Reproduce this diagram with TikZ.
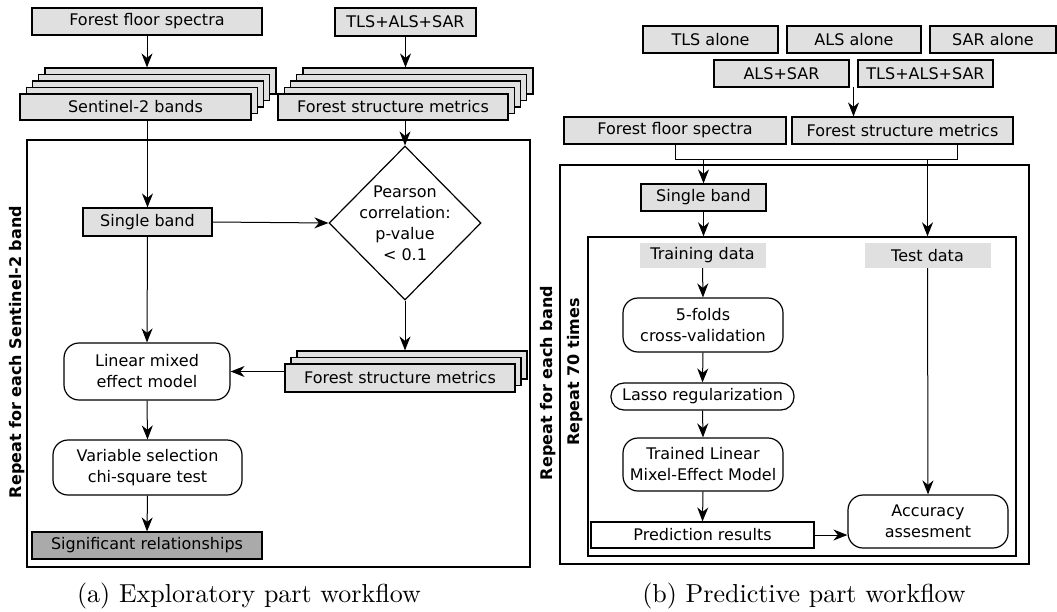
\documentclass[tikz,border=0pt]{standalone}
\usepackage{fontspec}
\newfontfamily\boxfont{DejaVu Sans}
\newfontfamily\capfont{lmroman10-regular}[Extension=.otf]
\usetikzlibrary{shapes.geometric,arrows.meta}
\definecolor{boxgray}{RGB}{224,224,224}
\definecolor{resultgray}{RGB}{170,170,170}

\begin{document}
\begin{tikzpicture}[x=1pt,y=1pt]
\tikzstyle{every node}+=[inner sep=0pt, font=\boxfont\fontsize{16}{21}\selectfont]
\tikzstyle{box}=[draw=black, fill=boxgray, line width=1.2pt]
\tikzstyle{sheet}=[box, minimum width=231, minimum height=26]
\tikzstyle{step box}=[draw=black, fill=white, line width=1.2pt, rounded corners=15pt, align=center]
\tikzstyle{datatag}=[fill=boxgray, minimum width=126, minimum height=25]
\tikzstyle{repeatframe}=[draw=black, line width=2pt]
\tikzstyle{replabel}=[rotate=90, font=\boxfont\fontsize{16}{21}\selectfont\bfseries]
\tikzstyle{caption}=[font=\capfont\fontsize{26}{31}\selectfont]
\tikzstyle{line}=[draw=black, line width=1pt]
\tikzstyle{arrow}=[line, -{Stealth[length=14pt,width=11pt,inset=4.5pt]}]
\useasboundingbox (0,0) rectangle (1057,-611);
\node [box, minimum width=230, minimum height=27] (ffsA) at (147,-21.5) {Forest floor spectra};
\node [box, minimum width=141, minimum height=28] (tlsA) at (405.5,-22) {TLS+ALS+SAR};
\node [sheet] (s2back) at (160.5,-81) {};
\node [sheet] at (154.25,-87.5) {};
\node [sheet] at (148,-94) {};
\node [sheet] at (141.75,-100.5) {};
\node [sheet] (s2) at (135.5,-107) {Sentinel-2 bands};
\node [sheet, minimum width=230] (fsmAback) at (418,-81) {};
\node [sheet, minimum width=230] at (411.75,-87.5) {};
\node [sheet, minimum width=230] at (405.5,-94) {};
\node [sheet, minimum width=230] at (399.25,-100.5) {};
\node [sheet, minimum width=230] (fsmA) at (393,-107) {Forest structure metrics};
\node [repeatframe, minimum width=503, minimum height=427] (loopA) at (278.5,-353.5) {};
\node [replabel] (labelA) at (17,-352) {Repeat for each Sentinel-2 band};
\node [box, minimum width=129, minimum height=28] (sbA) at (147.5,-222) {Single band};
\node [diamond, draw=black, line width=1.2pt, fill=white, align=center, inner sep=-7pt,
       minimum width=152, minimum height=154] (pearson) at (405,-223)
       {Pearson\\correlation:\\p-value\\< 0.1};
\node [sheet, minimum width=230, minimum height=28] (fsmBback) at (412,-365) {};
\node [sheet, minimum width=230, minimum height=28] at (406,-371.5) {};
\node [sheet, minimum width=230, minimum height=28] (fsmB) at (400,-378) {Forest structure metrics};
\node [step box, minimum width=166, minimum height=57] (lmmA) at (147,-371.5) {Linear mixed\\effect model};
\node [step box, minimum width=189, minimum height=55] (vsA) at (147.5,-467.5) {Variable selection\\chi-square test};
\node [box, fill=resultgray, minimum width=230, minimum height=27] (sigA) at (147,-545.5) {Significant relationships};
\node [caption] (capA) at (249,-596) {(a) Exploratory part workflow};
\draw [arrow] (ffsA.south) -- (ffsA.south |- s2back.north);
\draw [arrow] (tlsA.south) -- (tlsA.south |- fsmAback.north);
\draw [arrow] (sbA.north |- s2.south) -- (sbA.north);
\draw [arrow] (pearson.north |- fsmA.south) -- (pearson.north);
\draw [arrow] (sbA.east) -- (pearson.west);
\draw [arrow] (sbA.south) -- (lmmA.north);
\draw [arrow] (pearson.south) -- (pearson.south |- fsmBback.north);
\draw [arrow] (lmmA.east -| fsmB.west) -- (lmmA.east);
\draw [arrow] (lmmA.south) -- (vsA.north);
\draw [arrow] (vsA.south) -- (sigA.north);
\node [box, minimum width=135, minimum height=27] (tlsAlone) at (710.5,-39.5) {TLS alone};
\node [box, minimum width=134, minimum height=27] (alsAlone) at (854,-39.5) {ALS alone};
\node [box, minimum width=126, minimum height=27] (sarAlone) at (993,-39.5) {SAR alone};
\node [box, minimum width=135, minimum height=27] (alsSar) at (781.5,-73.5) {ALS+SAR};
\node [box, minimum width=135, minimum height=27] (tlsAlsSar) at (925.5,-73.5) {TLS+ALS+SAR};
\node [box, minimum width=222, minimum height=27] (ffsR) at (675,-130.5) {Forest floor spectra};
\node [box, minimum width=221, minimum height=27] (fsmR) at (902.5,-130.5) {Forest structure metrics};
\node [repeatframe, minimum width=469, minimum height=399] (bandLoop) at (794.5,-364.5) {};
\node [repeatframe, line width=1.4pt, minimum width=428, minimum height=319] (innerR) at (802,-396.5) {};
\node [replabel] (labelB) at (548,-383) {Repeat for each band};
\node [replabel] (labelC) at (575,-372) {Repeat 70 times};
\node [box, minimum width=125, minimum height=27] (sbR) at (703.5,-197.5) {Single band};
\node [datatag] (trainR) at (702.5,-255.5) {Training data};
\node [datatag] (testR) at (927.5,-255.5) {Test data};
\node [step box, minimum width=160, minimum height=54] (foldsR) at (703,-325) {5-folds\\cross-validation};
\node [step box, rounded corners=13pt, minimum width=183, minimum height=27] (lassoR) at (702.5,-396.5) {Lasso regularization};
\node [step box, minimum width=160, minimum height=53] (trainedR) at (703,-464.5) {Trained Linear\\Mixel-Effect Model};
\node [draw=black, fill=white, line width=1.2pt, minimum width=223, minimum height=26] (predR) at (702.5,-535) {Prediction results};
\node [step box, minimum width=160, minimum height=53] (accR) at (928,-521.5) {Accuracy\\assesment};
\node [caption] (capB) at (804,-596) {(b) Predictive part workflow};
\coordinate (gapR) at (853.5,-87);
\coordinate (joinL) at (675,-159);
\coordinate (joinR) at (957,-159);
\draw [arrow] (gapR) -- (gapR |- fsmR.north);
\draw [line] (ffsR.south) -- (joinL) -- (joinR) -- (joinR |- fsmR.south);
\draw [arrow] (sbR.north |- joinL) -- (sbR.north);
\draw [arrow] (testR.north |- joinL) -- (testR.north |- innerR.north);
\draw [arrow] (sbR.south) -- (sbR.south |- innerR.north);
\draw [arrow] (trainR.south) -- (foldsR.north);
\draw [arrow] (foldsR.south) -- (lassoR.north);
\draw [arrow] (lassoR.south) -- (trainedR.north);
\draw [arrow] (trainedR.south) -- (predR.north);
\draw [arrow] (predR.east) -- (predR.east -| accR.west);
\draw [arrow] (testR.south) -- (accR.north);
\end{tikzpicture}
\end{document}
